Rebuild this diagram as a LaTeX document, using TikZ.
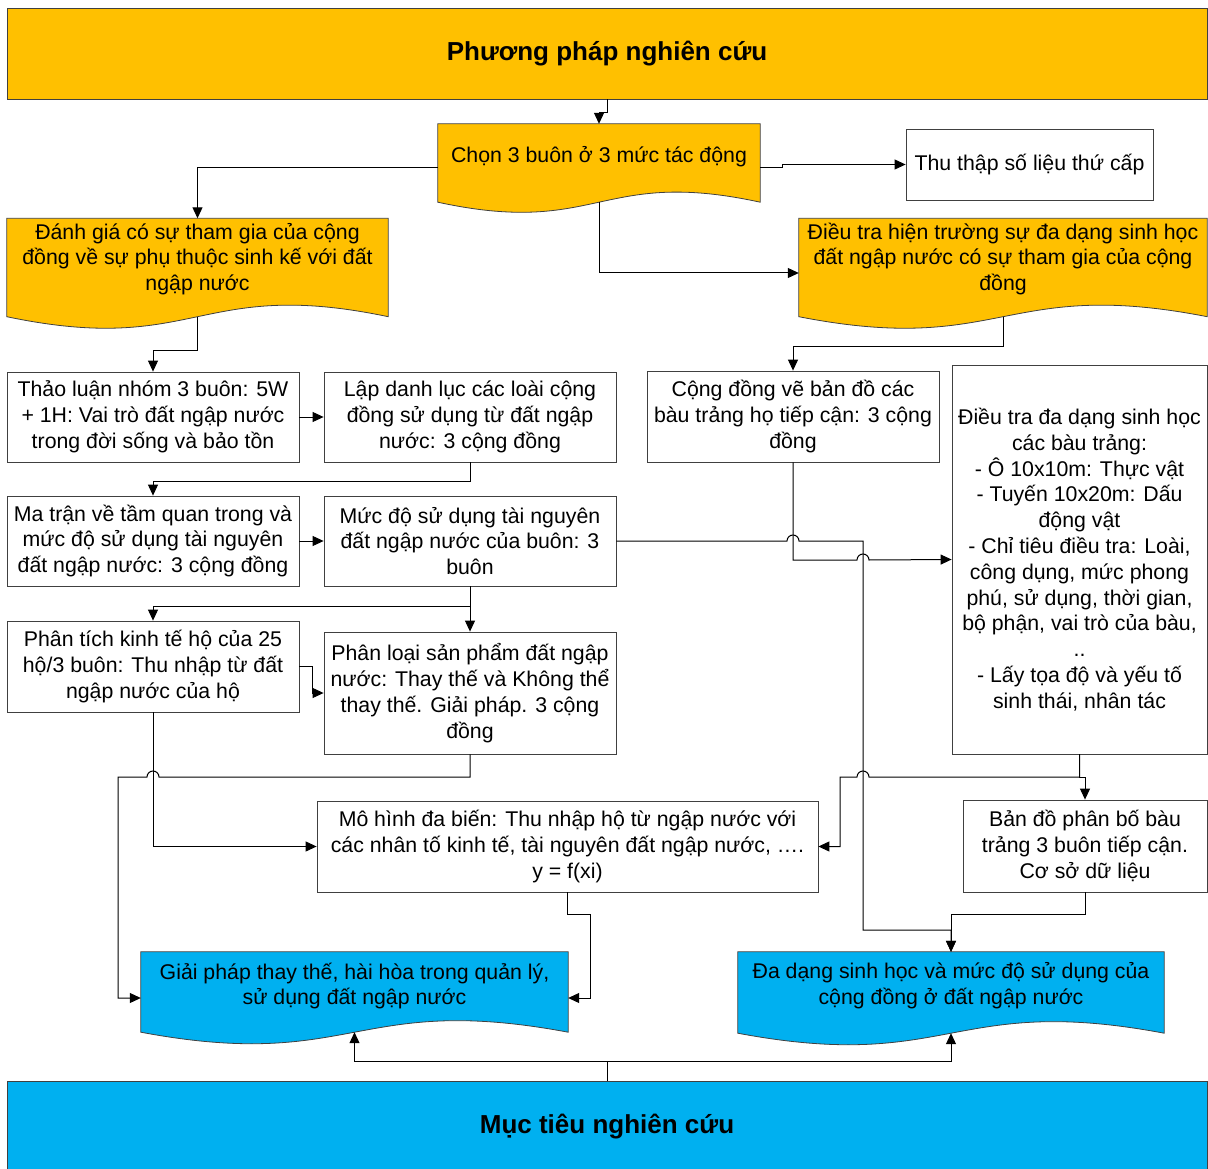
\documentclass[tikz,border=0pt]{standalone}
\usepackage{fontspec}
\setmainfont{Liberation Sans}
\usetikzlibrary{arrows.meta, positioning, calc, backgrounds}
\definecolor{vang}{HTML}{FFC000}
\definecolor{xanh}{HTML}{00B0F0}
\definecolor{vien}{HTML}{404040}

% document shape: wavy bottom under a named node
\newcommand{\docwave}[4]{%
  \filldraw[fill=#2, draw=vien, line width=0.8pt] (#1.north west) -- (#1.north east)
    -- ($(#1.south east)+(0,#3)$) .. controls ($(#1.south)+(0,#3-#4)$) and ($(#1.south)+(0,#3+#4)$) .. ($(#1.south west)+(0,#3)$) -- cycle;
  \coordinate (#1-w) at ($(#1.south)+(0,#3)$);
}

\begin{document}
\begin{tikzpicture}[x=1pt, y=-1pt, font=\fontsize{21.3}{25.8}\selectfont,
    box/.style={draw=vien, line width=0.8pt, fill=white, rectangle, align=center, inner sep=2pt},
    docbox/.style={rectangle, align=center, inner sep=2pt},
    banner/.style={draw=vien, line width=0.8pt, rectangle, minimum width=1200pt, minimum height=91pt, font=\fontsize{26}{30}\selectfont\bfseries},
    conn/.style={line width=1pt},
    >={Triangle[length=11pt,width=10pt]}]
  \useasboundingbox (0,0) rectangle (1208,1169);

  % banners
  \node[banner, fill=vang] (pp) at (607,53.5) {Phương pháp nghiên cứu};
  \node[banner, fill=xanh] (mt) at (607,1126.5) {Mục tiêu nghiên cứu};

  % document shapes (text area only, wave drawn behind)
  \node[docbox, minimum width=322pt, minimum height=66pt] (chon) at (599,157) {Chọn 3 buôn ở 3 mức tác động};
  \node[docbox, minimum width=381pt, minimum height=81pt] (danhgia) at (197.5,259) {Đánh giá có sự tham gia của cộng\\đồng về sự phụ thuộc sinh kế với đất\\ngập nước};
  \node[docbox, minimum width=408pt, minimum height=81pt] (dieutraht) at (1003,259) {Điều tra hiện trường sự đa dạng sinh học\\đất ngập nước có sự tham gia của cộng\\đồng};
  \node[docbox, minimum width=427pt, minimum height=68pt] (giaiphap) at (354.5,986) {Giải pháp thay thế, hài hòa trong quản lý,\\sử dụng đất ngập nước};
  \node[docbox, minimum width=426pt, minimum height=68pt] (dadang) at (951,986) {Đa dạng sinh học và mức độ sử dụng của\\cộng đồng ở đất ngập nước};

  % boxes
  \node[box, minimum width=247pt, minimum height=71pt] (thuthap) at (1029.5,164.5) {Thu thập số liệu thứ cấp};
  \node[box, minimum width=292pt, minimum height=90pt] (thaoluan) at (153,417) {Thảo luận nhóm 3 buôn: 5W\\+ 1H: Vai trò đất ngập nước\\trong đời sống và bảo tồn};
  \node[box, minimum width=292pt, minimum height=90pt] (lapdanhluc) at (470,417) {Lập danh lục các loài cộng\\đồng sử dụng từ đất ngập\\nước: 3 cộng đồng};
  \node[box, minimum width=292pt, minimum height=91pt] (congdongve) at (793,416.5) {Cộng đồng vẽ bản đồ các\\bàu trảng họ tiếp cận: 3 cộng\\đồng};
  \node[box, minimum width=255pt, minimum height=389pt] (dieutradd) at (1079.5,559.5) {Điều tra đa dạng sinh học\\các bàu trảng:\\- Ô 10x10m: Thực vật\\- Tuyến 10x20m: Dấu\\động vật\\- Chỉ tiêu điều tra: Loài,\\công dụng, mức phong\\phú, sử dụng, thời gian,\\bộ phận, vai trò của bàu,\\..\\- Lấy tọa độ và yếu tố\\sinh thái, nhân tác};
  \node[box, minimum width=292pt, minimum height=90pt] (matran) at (153,541) {Ma trận về tầm quan trong và\\mức độ sử dụng tài nguyên\\đất ngập nước: 3 cộng đồng};
  \node[box, minimum width=292pt, minimum height=90pt] (mucdo) at (470,541) {Mức độ sử dụng tài nguyên\\đất ngập nước của buôn: 3\\buôn};
  \node[box, minimum width=292pt, minimum height=91pt] (phantich) at (153,666.5) {Phân tích kinh tế hộ của 25\\hộ/3 buôn: Thu nhập từ đất\\ngập nước của hộ};
  \node[box, minimum width=292pt, minimum height=122pt] (phanloai) at (470,693) {Phân loại sản phẩm đất ngập\\nước: Thay thế và Không thể\\thay thế. Giải pháp. 3 cộng\\đồng};
  \node[box, minimum width=501pt, minimum height=91pt] (mohinh) at (567.5,846.5) {Mô hình đa biến: Thu nhập hộ từ ngập nước với\\các nhân tố kinh tế, tài nguyên đất ngập nước, ….\\y = f(xi)};
  \node[box, minimum width=244pt, minimum height=92pt] (bando) at (1085,846) {Bản đồ phân bố bàu\\trảng 3 buôn tiếp cận.\\Cơ sở dữ liệu};

  \begin{scope}[on background layer]
    \docwave{chon}{vang}{12}{35}
    \docwave{danhgia}{vang}{17}{40}
    \docwave{dieutraht}{vang}{17}{40}
    \docwave{giaiphap}{xanh}{12}{40}
    \docwave{dadang}{xanh}{13}{40}
  \end{scope}

  % connectors
  \draw[conn, ->] (pp.south) -- ++(0,13) -| (chon.north);
  \draw[conn, ->] ($(chon.west)+(0,11)$) -| (danhgia.north);
  \draw[conn, ->] ($(chon.east)+(0,11)$) -- ++(22,0) |- (thuthap.west);
  \draw[conn, ->] (chon-w) |- ($(dieutraht.west)+(0,14)$);
  \draw[conn, ->] (danhgia-w) -- ++(0,34) -| (thaoluan.north);
  \draw[conn, ->] (dieutraht-w) -- ++(0,30) -| (congdongve.north);
  \draw[conn, ->] (thaoluan.east) -- (lapdanhluc.west);
  \draw[conn, ->] (lapdanhluc.south) -- ++(0,19) -| (matran.north);
  \draw[conn, ->] (matran.east) -- (mucdo.west);
  \draw[conn, ->] (mucdo.south) -- (phanloai.north);
  \draw[conn, ->] (mucdo.south) -- ++(0,20) -| (phantich.north);
  \draw[conn, ->] (phantich.east) -- ++(13,0) |- (phanloai.west);
  \draw[conn, ->] (phanloai.south) -- (470,777) -- (159,777) arc[start angle=0, end angle=-180, radius=6] -- (118,777) |- ($(giaiphap.west)+(0,12)$);
  \draw[conn, ->] (phantich.south) |- (mohinh.west);
  \draw[conn, ->] (mucdo.east) -- (787,541) arc[start angle=180, end angle=360, radius=6] -- (863,541) -- (863,930) -| (dadang.north);
  \draw[conn, ->] (congdongve.south) -- (793,560) -- (857,560) arc[start angle=180, end angle=360, radius=6] -- (dieutradd.west);
  \draw[conn, ->] (dieutradd.south) -- (1079.5,777) -| (bando.north);
  \draw[conn, ->] (dieutradd.south) -- (1079.5,777) -- (869,777) arc[start angle=0, end angle=-180, radius=6] -- (840,777) |- (mohinh.east);
  \draw[conn, ->] (bando.south) -- ++(0,22) -| (dadang.north);
  \draw[conn, ->] (mohinh.south) -- ++(0,22) -- ++(23,0) |- ($(giaiphap.east)+(0,12)$);
  \draw[conn, ->] (mt.north) -- ++(0,-19) -| (giaiphap-w);
  \draw[conn, ->] (mt.north) -- ++(0,-19) -| (dadang-w);
\end{tikzpicture}
\end{document}
